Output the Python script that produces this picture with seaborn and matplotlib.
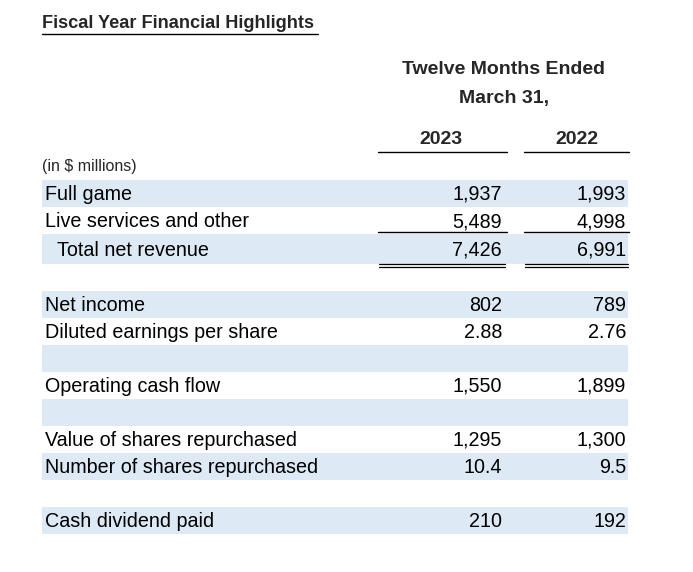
import matplotlib
matplotlib.use("Agg")
import matplotlib.pyplot as plt
import seaborn as sns

sns.set_theme(style="white")
plt.rcParams["font.family"] = "Liberation Sans"

title = "Fiscal Year Financial Highlights"
header1 = "Twelve Months Ended"
header2 = "March 31,"
years = ["2023", "2022"]
units = "(in $ millions)"
labels = ["Full game", "Live services and other", "Total net revenue", "",
          "Net income", "Diluted earnings per share", "",
          "Operating cash flow", "",
          "Value of shares repurchased", "Number of shares repurchased", "",
          "Cash dividend paid"]
vals_2023 = ["1,937", "5,489", "7,426", "", "802", "2.88", "", "1,550", "",
             "1,295", "10.4", "", "210"]
vals_2022 = ["1,993", "4,998", "6,991", "", "789", "2.76", "", "1,899", "",
             "1,300", "9.5", "", "192"]
shaded = [True, False, True, False, True, False, True, False, True,
          False, True, False, True]
row_tops = [180, 207, 234, 264, 291, 318, 345, 372, 399, 426, 453, 480, 507]

fig = plt.figure(figsize=(6.93, 5.72), dpi=100)
ax = fig.add_axes([0, 0, 1, 1])
ax.set_xlim(0, 693)
ax.set_ylim(572, 0)
ax.axis("off")

band = "#dde9f5"
fs = 14.2
for lab, v1, v2, sh, top in zip(labels, vals_2023, vals_2022, shaded, row_tops):
    h = 27 if lab != "Total net revenue" else 30
    if sh:
        ax.add_patch(plt.Rectangle((42, top), 586, h, color=band, lw=0))
    yc = top + h / 2 + 1
    x0 = 57 if lab == "Total net revenue" else 45
    ax.text(x0, yc, lab, fontsize=fs, va="center", ha="left", color="black")
    ax.text(502, yc, v1, fontsize=fs, va="center", ha="right", color="black")
    ax.text(626, yc, v2, fontsize=fs, va="center", ha="right", color="black")

ax.text(42, 24, title, fontsize=13.1, fontweight="bold", va="center", ha="left")
ax.plot([42, 318], [34, 34], color="black", lw=1)
ax.text(504, 70, header1, fontsize=14, fontweight="bold", ha="center", va="center")
ax.text(504, 99, header2, fontsize=14, fontweight="bold", ha="center", va="center")
ax.text(441, 139, years[0], fontsize=14, fontweight="bold", ha="center", va="center")
ax.text(577, 139, years[1], fontsize=14, fontweight="bold", ha="center", va="center")
ax.plot([378, 507], [152, 152], color="black", lw=1)
ax.plot([524, 629], [152, 152], color="black", lw=1)
ax.text(42, 167, units, fontsize=11.5, ha="left", va="center")

ax.plot([378, 507], [232, 232], color="black", lw=1)
ax.plot([524, 629], [232, 232], color="black", lw=1)
for y in (264, 267):
    ax.plot([379, 505], [y, y], color="black", lw=0.9)
    ax.plot([525, 628], [y, y], color="black", lw=0.9)

fig.savefig("out.png", dpi=100)
